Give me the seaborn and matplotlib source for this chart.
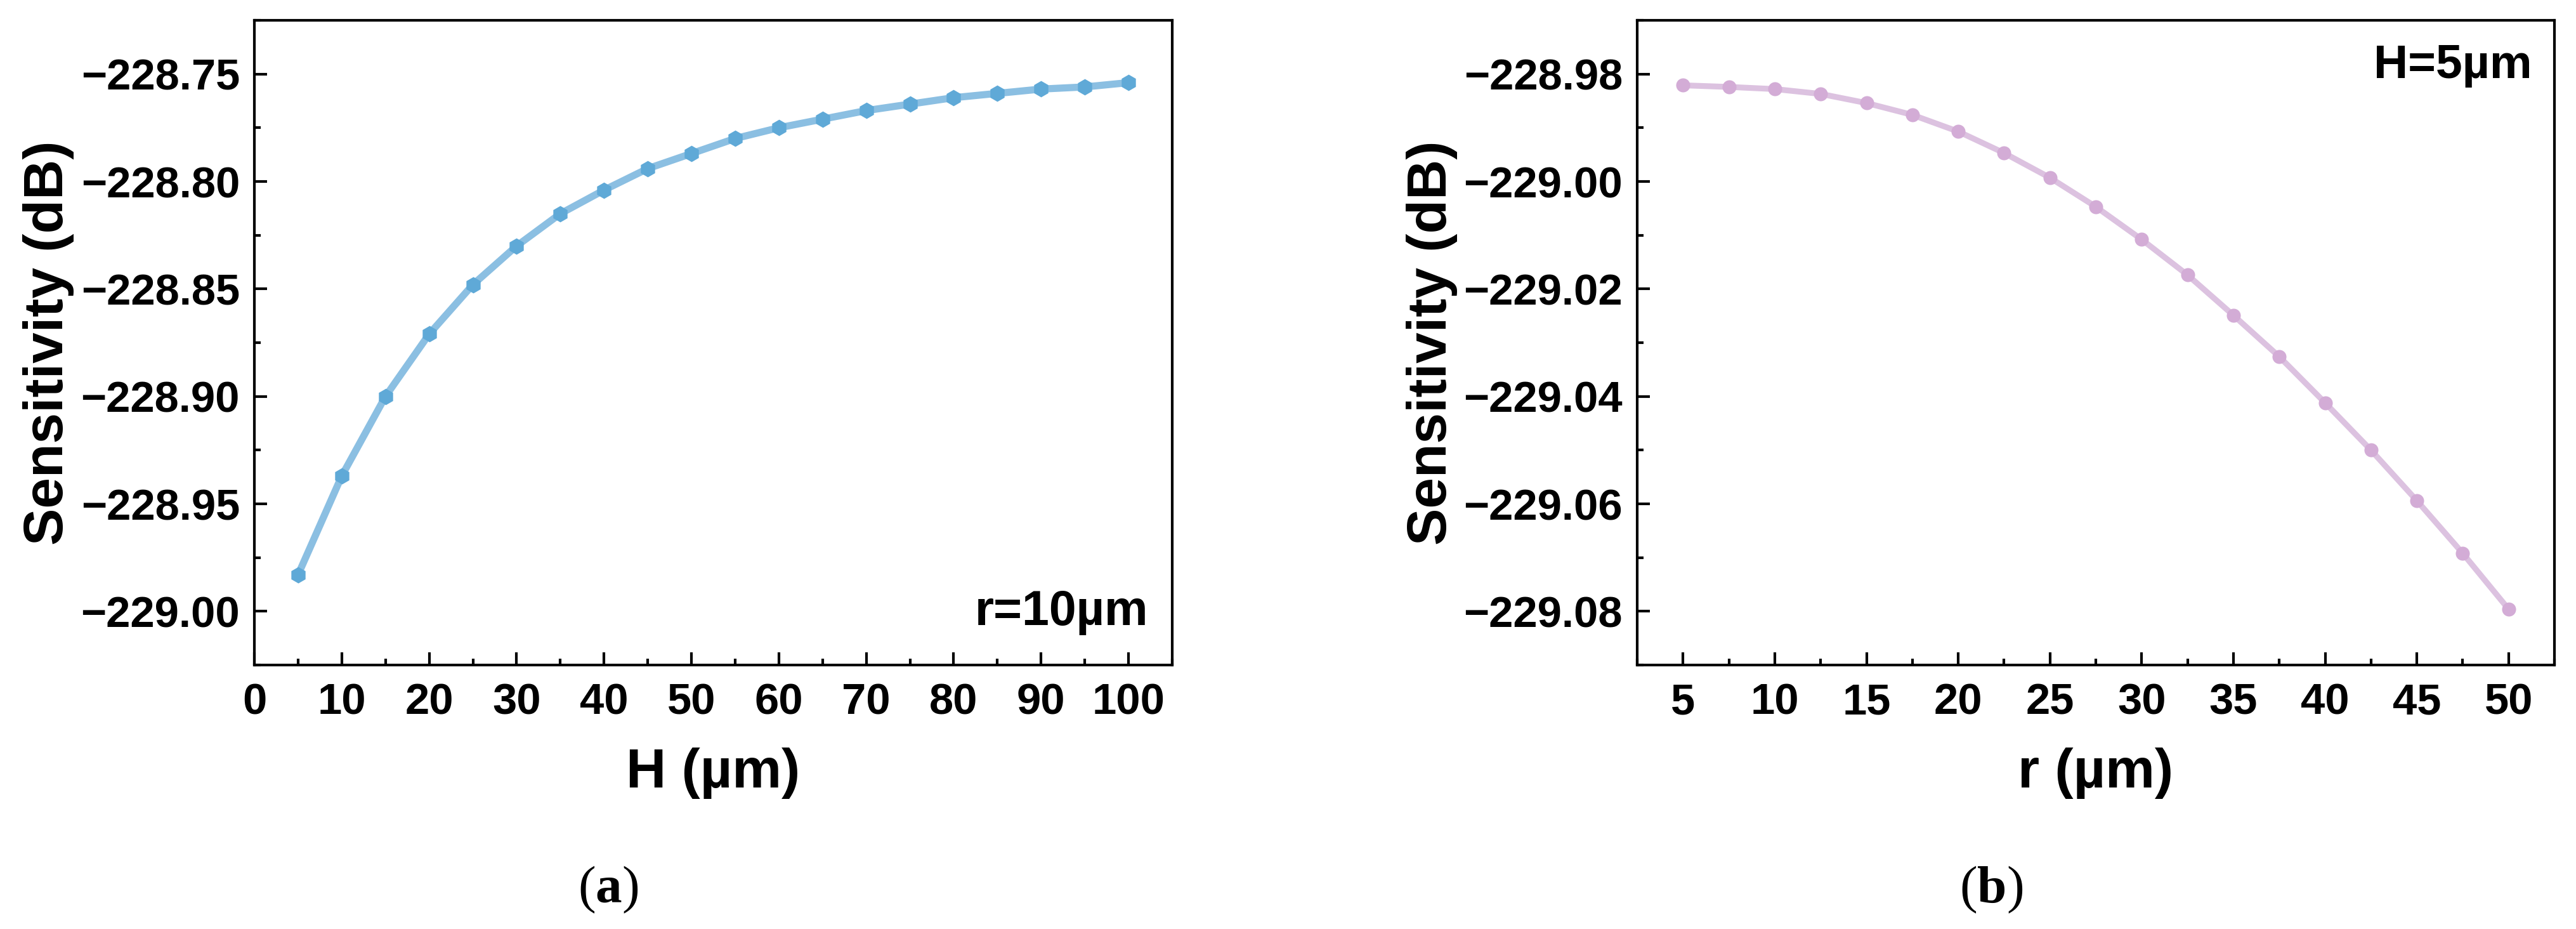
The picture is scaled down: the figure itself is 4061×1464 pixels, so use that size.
import numpy as np
import pandas as pd
import matplotlib
matplotlib.use("Agg")
import matplotlib.pyplot as plt
import seaborn as sns
from matplotlib.ticker import MultipleLocator, FuncFormatter

# ---- data ----
H_um = [5, 10, 15, 20, 25, 30, 35, 40, 45, 50, 55, 60, 65, 70, 75, 80, 85, 90, 95, 100]
sens_H = [-228.983, -228.937, -228.900, -228.871, -228.848, -228.830, -228.815,
          -228.804, -228.794, -228.787, -228.780, -228.775, -228.771, -228.767,
          -228.764, -228.761, -228.759, -228.757, -228.756, -228.754]

r_um = [5, 7.5, 10, 12.5, 15, 17.5, 20, 22.5, 25, 27.5, 30, 32.5, 35, 37.5, 40,
        42.5, 45, 47.5, 50]
sens_r = [-228.9821, -228.9824, -228.9828, -228.9837, -228.9854, -228.9876,
          -228.9907, -228.9947, -228.9993, -229.0047, -229.0108, -229.0174,
          -229.0249, -229.0326, -229.0412, -229.0500, -229.0594, -229.0692,
          -229.0796]

ylabel = "Sensitivity (dB)"
xlabel_a = "H (µm)"
xlabel_b = "r (µm)"
note_a = "r=10µm"
note_b = "H=5µm"
cap_a = r"($\mathbf{a}$)"
cap_b = r"($\mathbf{b}$)"

# ---- style ----
sns.set_theme(style="white")
plt.rcParams["font.family"] = ["Liberation Sans", "DejaVu Sans"]
plt.rcParams["font.weight"] = "bold"
plt.rcParams["mathtext.fontset"] = "custom"
plt.rcParams["mathtext.rm"] = "Liberation Serif"
plt.rcParams["mathtext.bf"] = "Liberation Serif:bold"
plt.rcParams["axes.unicode_minus"] = True
for k in ["text.color", "axes.labelcolor", "xtick.color", "ytick.color",
          "axes.edgecolor", "xtick.labelcolor", "ytick.labelcolor"]:
    plt.rcParams[k] = "black"

W, Hh, dpi = 4061, 1464, 300
fig = plt.figure(figsize=(W / dpi, Hh / dpi), dpi=dpi)
fig.patch.set_facecolor("white")

ax_a = fig.add_axes([401 / W, 1 - 1048 / Hh, 1447 / W, 1016 / Hh])
ax_b = fig.add_axes([2581 / W, 1 - 1048 / Hh, 1446 / W, 1016 / Hh])

df_a = pd.DataFrame({"H": H_um, "S": sens_H})
df_b = pd.DataFrame({"r": r_um, "S": sens_r})

sns.lineplot(data=df_a, x="H", y="S", ax=ax_a, color="#8bbfe2", linewidth=2.7,
             marker="h", markersize=6.2, markerfacecolor="#5fa9d7",
             markeredgewidth=0, zorder=3)
sns.lineplot(data=df_b, x="r", y="S", ax=ax_b, color="#dcc2e0", linewidth=2.2,
             marker="o", markersize=5.3, markerfacecolor="#d3acd6",
             markeredgewidth=0, zorder=3)

tick_fs = 16.5
label_fs = 21

def yfmt(v, pos):
    s = "%.2f" % v
    return s.replace("-", "\u2212")

def xfmt(v, pos):
    return "%g" % v

def style_axis(ax, xlim, ylim, xmaj, xmin, ymaj, ymin, xlabel):
    ax.set_xlim(*xlim)
    ax.set_ylim(*ylim)
    ax.xaxis.set_major_locator(MultipleLocator(xmaj))
    ax.xaxis.set_minor_locator(MultipleLocator(xmin))
    ax.yaxis.set_major_locator(MultipleLocator(ymaj))
    ax.yaxis.set_minor_locator(MultipleLocator(ymin))
    ax.yaxis.set_major_formatter(FuncFormatter(yfmt))
    ax.xaxis.set_major_formatter(FuncFormatter(xfmt))
    for sp in ax.spines.values():
        sp.set_visible(True)
        sp.set_color("black")
        sp.set_linewidth(1.0)
    ax.tick_params(which="both", direction="in", top=False, right=False,
                   bottom=True, left=True, color="black", width=1.0,
                   labelcolor="black")
    ax.tick_params(which="major", length=4.8)
    ax.tick_params(which="minor", length=2.3)
    ax.tick_params(axis="y", which="major", pad=5.5, labelsize=tick_fs)
    ax.tick_params(axis="x", which="major", pad=6.5, labelsize=tick_fs)
    for lab in ax.get_xticklabels() + ax.get_yticklabels():
        lab.set_fontweight("bold")
    ax.set_xlabel(xlabel, fontsize=label_fs, fontweight="bold", color="black")
    ax.set_ylabel(ylabel, fontsize=label_fs, fontweight="bold", color="black")
    ax.xaxis.set_label_coords(0.5, -0.128)
    ax.yaxis.set_label_coords(-0.196, 0.5)
    ax.grid(False)
    ax.set_facecolor("white")

style_axis(ax_a, (0, 105), (-229.025, -228.725), 10, 5, 0.05, 0.025, xlabel_a)
style_axis(ax_b, (2.5, 52.5), (-229.09, -228.97), 5, 2.5, 0.02, 0.01, xlabel_b)

ax_a.text(0.974, 0.062, note_a, transform=ax_a.transAxes, ha="right",
          va="baseline", fontsize=18.5, fontweight="bold", color="black")
ax_b.text(0.9758, 0.9104, note_b, transform=ax_b.transAxes, ha="right",
          va="baseline", fontsize=18, fontweight="bold", color="black")

fig.text(0.236, 0.0287, cap_a, ha="center", va="baseline", fontsize=20,
         family="Liberation Serif", fontweight="normal", color="black")
fig.text(0.773, 0.0287, cap_b, ha="center", va="baseline", fontsize=20,
         family="Liberation Serif", fontweight="normal", color="black")

fig.savefig("out.png", dpi=dpi, facecolor="white")
